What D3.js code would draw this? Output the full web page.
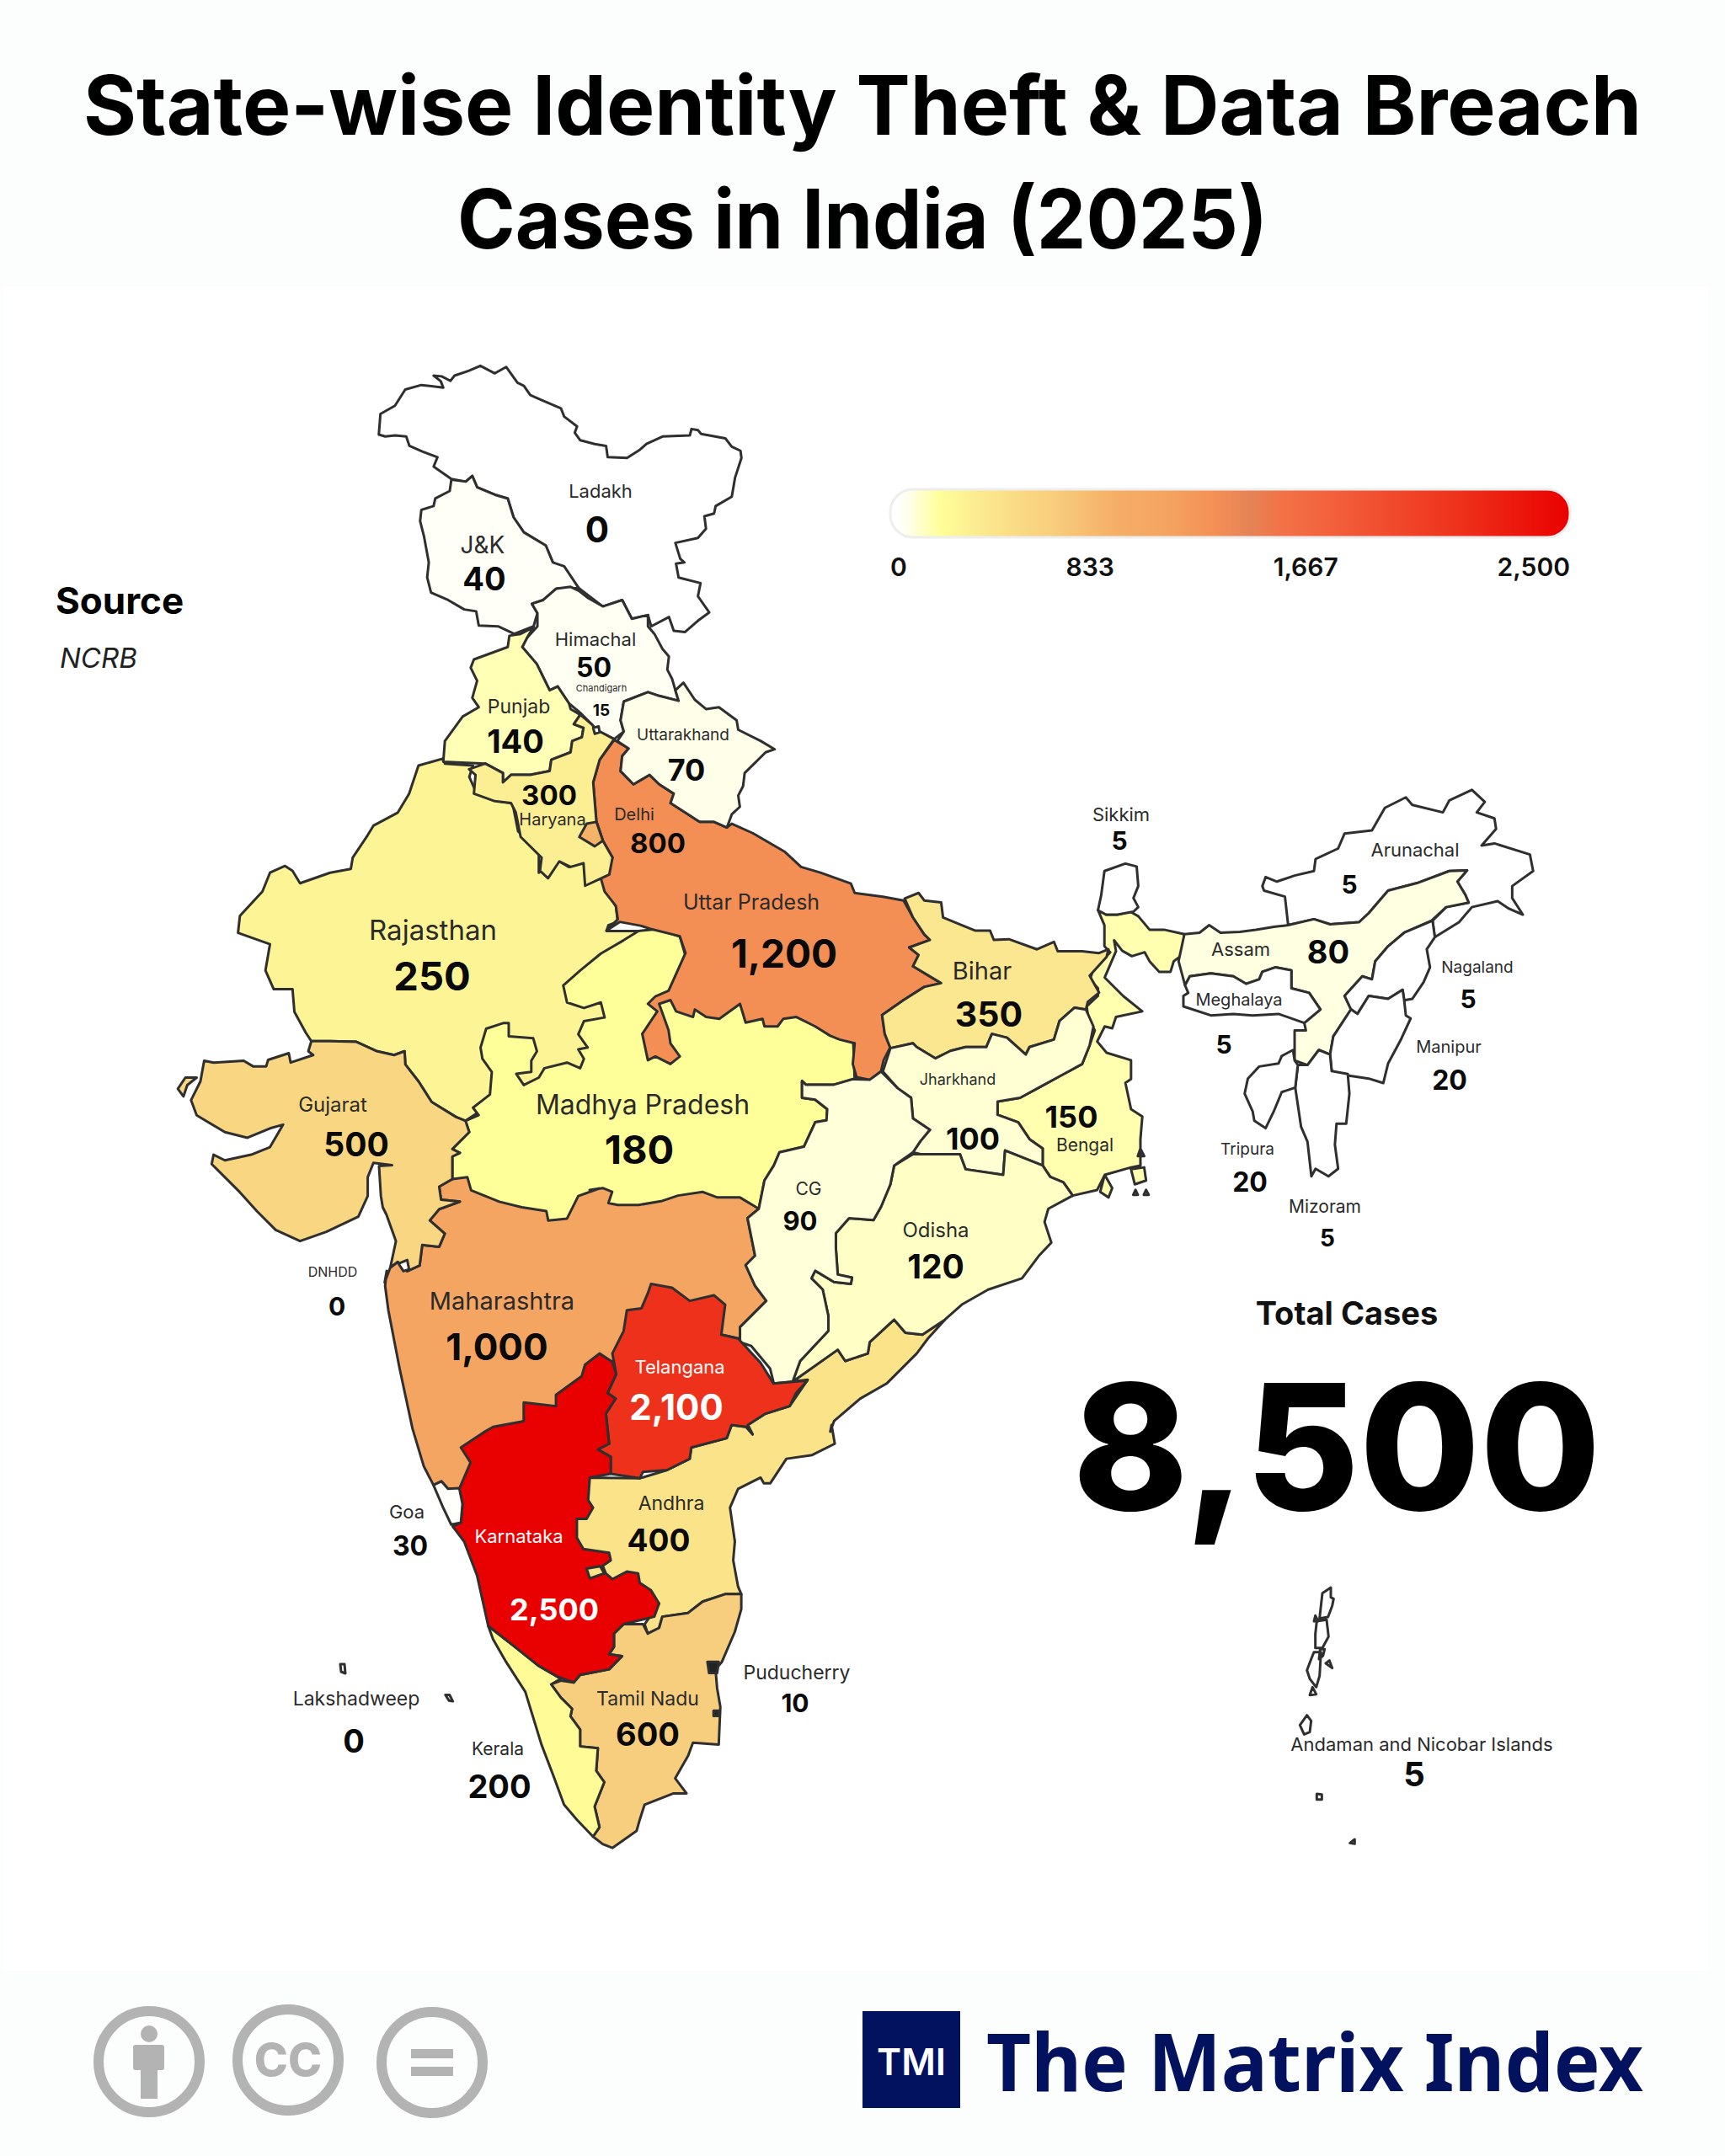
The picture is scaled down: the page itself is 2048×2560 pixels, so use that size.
<!DOCTYPE html>
<html>
<head>
<meta charset="utf-8">
<title>State-wise Identity Theft & Data Breach Cases in India (2025)</title>
<script src="https://cdn.jsdelivr.net/npm/d3@7"></script>
<style>
  html, body { margin: 0; padding: 0; background: #fcfdfd; }
  svg { display: block; font-family: Inter, "Noto Sans", sans-serif; }
</style>
</head>
<body>
<svg id="chart" width="2048" height="2560"></svg>
<script>
// Cases per state
const stateNames = ['Ladakh', 'J&K', 'Himachal', 'Chandigarh', 'Punjab', 'Haryana', 'Uttarakhand', 'Delhi', 'Uttar Pradesh',
    'Rajasthan', 'Bihar', 'Gujarat', 'Madhya Pradesh', 'Jharkhand', 'Bengal', 'CG', 'Odisha', 'Sikkim', 'Arunachal', 'Assam',
    'Meghalaya', 'Nagaland', 'Manipur', 'Tripura', 'Mizoram', 'DNHDD', 'Maharashtra', 'Telangana', 'Goa', 'Karnataka',
    'Andhra', 'Lakshadweep', 'Kerala', 'Tamil Nadu', 'Puducherry', 'Andaman and Nicobar Islands'];
const stateValues = [0, 40, 50, 15, 140, 300, 70, 800, 1200,
    250, 350, 500, 180, 100, 150, 90, 120, 5, 5, 80,
    5, 5, 20, 20, 5, 0, 1000, 2100, 30, 2500,
    400, 0, 200, 600, 10, 5];

// Legend and colour ramp
const legendTicks = ['0', '833', '1,667', '2,500'];
const rampStops = [0, 20, 60, 180, 350, 400, 500, 600, 833, 1000, 1200, 1320, 1450, 1667, 2100, 2500];
const rampColors = ['#ffffff', '#ffffff', '#fffff0', '#ffff99', '#fbe78f', '#fbe38a', '#f9d682', '#f7ce7d', '#f5ad66', '#f4a562', '#f38f55', '#e58356', '#f27145', '#f25c38', '#ee311a', '#e90000'];

const totalLabel = 'Total Cases';
const totalCases = 8500;

// label layout: name x, y, size, value x, y, size (same order as stateNames)
const labelLayout = [
    [713, 583, 22, 709, 629, 42], [573, 647, 28, 575, 687, 38], [707, 759, 22, 705, 792, 32], [714, 817, 11, 714, 843, 19],
    [616, 839, 23, 612, 880, 38], [656, 973, 20, 652, 944, 33], [811, 872, 19, 815, 914, 36], [753, 967, 20, 781, 1001, 33],
    [892, 1071, 25, 931, 1132, 46], [514, 1104, 33, 513, 1159, 47], [1166, 1153, 29, 1174, 1204, 41], [395, 1311, 24, 423, 1359, 39],
    [763, 1311, 32, 759, 1365, 47], [1137, 1282, 18, 1155, 1352, 36], [1288, 1359, 21, 1272, 1326, 36], [960, 1411, 21, 950, 1450, 31],
    [1111, 1460, 24, 1111, 1504, 39], [1331, 967, 22, 1329, 998, 30], [1680, 1009, 22, 1602, 1050, 30], [1473, 1127, 22, 1577, 1130, 38],
    [1471, 1187, 20, 1453, 1240, 30], [1754, 1148, 19, 1743, 1186, 30], [1720, 1243, 20, 1721, 1282, 32], [1481, 1364, 19, 1484, 1403, 32],
    [1573, 1432, 21, 1576, 1470, 28], [395, 1510, 16, 400, 1551, 30], [596, 1545, 29, 590, 1599, 44], [807, 1623, 22, 803, 1671, 42],
    [483, 1795, 22, 487, 1835, 32], [616, 1824, 22, 658, 1911, 36], [797, 1785, 23, 782, 1829, 37], [423, 2017, 23, 420, 2067, 38],
    [591, 2076, 21, 593, 2121, 38], [769, 2017, 23, 769, 2059, 38], [946, 1986, 23, 944, 2022, 30], [1688, 2071, 22, 1679, 2107, 40]
];

// The outlines were digitised on six enlarged sheets of the map; each helper turns sheet readings into map units
const sheet = (x0, y0, kx, ky) => pts => pts.map(([x, y]) => [x0 + x * kx, y0 + y * ky]);
const A = sheet(400, 400, .3827, .4464);
const B = sheet(200, 880, .4464, .4464);
const C = sheet(700, 1000, .4464, .4464);
const D = sheet(1250, 920, .3827, .3571);
const E = sheet(440, 1500, .3827, .4464);
const F = sheet(1480, 1860, 1 / 3, 1 / 3);

const outlines = {
    'Rajasthan': [B([[665,65],[735,45],[735,60],[810,65],[800,95],[820,140],[880,160],[915,165],[930,240],[985,290],[985,350],[1010,335],[1040,320],[1065,335],[1105,310],[1110,380],[1150,365],[1190,440],[1195,480],[1170,490],[1165,505],[1250,505],[1300,600],[1200,800],[1000,1000],[820,990],[790,1010],[765,1000],[700,960],[665,905],[630,860],[628,825],[600,835],[555,825],[500,800],[430,798],[380,798],[365,775],[335,720],[330,660],[280,660],[258,610],[270,540],[185,510],[190,465],[250,400],[270,350],[310,332],[330,345],[350,378],[430,350],[485,340],[490,310],[530,250],[545,225],[610,190],[640,140]])],
    'Maharashtra': [[...B([[720,1185],[755,1165],[900,1100]]), ...C([[450,900],[450,975],[420,1000],[440,1100],[415,1125],[440,1180],[470,1220],[400,1290],[400,1330]]), ...E([[1140,200],[1088,190],[1000,300],[800,300],[640,400],[400,500],[280,600],[240,600],[220,580],[195,590],[165,540],[130,440],[90,280],[55,125],[45,60],[50,20]]), ...B([[575,1440],[590,1400],[610,1385],[635,1410],[668,1395],[675,1340],[720,1345],[735,1310],[695,1275],[720,1245],[775,1225],[725,1220]])]],
    'Madhya Pradesh': [[...B([[1250,505],[1300,500],[1360,520],[1375,570]]), ...C([[300,350],[700,500],[705,630],[650,645],[575,645],[565,635],[565,680],[600,685],[632,710],[630,740],[600,745],[570,810],[505,825],[490,860],[465,900],[450,975],[400,945],[340,945],[300,930],[235,940],[190,955],[130,965],[75,965],[50,960],[60,930],[35,920],[0,925]]), ...B([[1145,1190],[1090,1210],[1060,1270],[1010,1275],[1005,1250],[940,1240],[880,1225],[805,1195],[795,1160],[755,1165],[755,1105],[775,1095],[755,1085],[800,1040],[790,1010],[825,995],[810,975],[855,940],[860,880],[835,845],[830,815],[845,765],[890,750],[905,750],[905,785],[970,790],[980,825],[965,850],[965,880],[925,885],[945,915],[985,895],[1000,870],[1060,855],[1095,870],[1105,845],[1090,820],[1115,815],[1090,780],[1105,745],[1160,735],[1150,695],[1105,710],[1060,695],[1050,650],[1095,610],[1150,565],[1210,530]])]],
    'Uttar Pradesh': [[...A([[860,1072],[905,1095],[885,1115],[880,1155],[920,1190],[970,1165],[1000,1190],[1045,1215],[1035,1240],[1125,1290],[1170,1290],[1210,1305],[1225,1295],[1290,1320],[1390,1370],[1440,1410],[1500,1425]]), ...C([[695,110],[705,135],[780,145],[835,155],[860,200],[890,245],[905,260],[850,280],[875,300],[860,330],[935,375],[890,385],[835,420],[778,460],[785,510],[800,545],[782,580],[775,610],[745,632],[710,625],[700,590],[705,535],[665,525],[640,515],[600,490],[550,465],[515,470],[500,490],[465,490],[460,470],[415,480],[400,430],[345,470],[310,465],[280,445],[275,465],[230,450],[215,420],[185,430],[210,500],[215,535],[240,570],[215,590],[175,570],[155,580],[140,510],[180,450],[155,430],[175,410],[210,395],[255,295],[240,250],[160,230],[135,222],[80,212],[45,235],[75,205],[70,170]]), ...B([[1160,400],[1150,365]]), ...A([[855,1385],[825,1340],[805,1290],[795,1185],[815,1125]])]],
    'Ladakh': [A([[130,260],[135,205],[180,183],[212,140],[262,128],[330,135],[322,118],[300,103],[325,105],[352,117],[365,103],[410,90],[445,77],[490,97],[525,80],[560,122],[580,130],[600,155],[640,170],[695,190],[705,212],[745,238],[738,255],[755,275],[800,285],[835,290],[840,320],[900,322],[940,300],[960,285],[1010,265],[1060,263],[1095,262],[1100,245],[1120,248],[1130,258],[1205,270],[1225,292],[1252,303],[1255,322],[1235,375],[1225,425],[1175,450],[1170,470],[1140,477],[1145,510],[1120,535],[1050,548],[1065,590],[1078,600],[1052,603],[1060,640],[1128,655],[1120,690],[1155,733],[1120,755],[1080,785],[1045,782],[1030,745],[975,770],[965,740],[915,750],[885,700],[825,717],[750,668],[670,600],[648,555],[580,520],[548,480],[530,430],[490,420],[435,400],[420,370],[400,385],[355,378],[300,345],[312,320],[265,305],[225,290],[215,265],[180,262],[150,265]])],
    'J&K': [A([[355,380],[400,385],[420,370],[435,400],[490,420],[530,430],[548,480],[580,520],[648,555],[670,600],[705,610],[750,668],[680,670],[640,700],[605,710],[622,735],[610,770],[550,790],[500,770],[440,768],[432,730],[395,725],[345,700],[292,680],[280,640],[285,600],[270,530],[258,490],[262,460],[300,450],[305,430],[350,410]])],
    'Himachal': [A([[605,710],[640,700],[680,670],[725,665],[750,675],[780,695],[825,717],[885,700],[915,750],[965,740],[965,770],[985,790],[1010,830],[1030,850],[1025,885],[1040,910],[1050,940],[1060,968],[1000,955],[965,945],[890,970],[880,1020],[890,1050],[860,1070],[805,1045],[790,1030],[755,1000],[720,975],[685,930],[660,940],[620,870],[575,825],[590,800],[622,770],[622,735]])],
    'Punjab': [A([[535,795],[570,790],[610,772],[590,800],[575,825],[620,870],[660,940],[685,930],[720,975],[725,990],[755,1005],[735,1030],[765,1040],[760,1065],[730,1075],[725,1105],[665,1125],[660,1155],[600,1165],[540,1165],[515,1185],[515,1160],[460,1135],[330,1130],[335,1075],[390,1010],[440,985],[420,960],[435,915],[415,880],[425,858],[530,825]])],
    'Haryana': [A([[755,1005],[790,1030],[805,1045],[860,1070],[815,1125],[795,1185],[805,1290],[825,1340],[855,1385],[845,1430],[820,1440],[770,1460],[765,1400],[725,1410],[690,1395],[655,1440],[630,1420],[635,1385],[570,1330],[555,1265],[540,1240],[490,1235],[425,1215],[430,1165],[410,1150],[460,1135],[515,1160],[515,1185],[540,1165],[600,1165],[660,1155],[665,1125],[725,1105],[730,1075],[760,1065],[765,1040],[735,1030]])],
    'Delhi': [A([[775,1295],[805,1290],[825,1340],[800,1355],[752,1330]])],
    'Uttarakhand': [A([[1075,920],[1110,965],[1145,990],[1185,985],[1240,1020],[1245,1045],[1315,1075],[1358,1097],[1330,1105],[1265,1160],[1260,1195],[1245,1220],[1250,1250],[1225,1270],[1210,1305],[1170,1290],[1125,1290],[1035,1240],[1045,1215],[1000,1190],[970,1165],[920,1190],[880,1155],[885,1115],[905,1095],[870,1075],[890,1050],[880,1020],[890,970],[965,945],[1000,955],[1060,968],[1050,940]])],
    'Bengal': [[...C([[1285,940],[1350,925],[1370,885],[1440,865],[1465,860],[1465,790],[1470,730],[1440,710],[1425,640],[1440,630],[1440,580],[1375,560],[1350,530],[1370,490],[1390,495],[1400,465],[1470,450],[1420,410],[1370,360],[1400,290]]), ...D([[190,550],[215,585],[245,603],[285,590],[300,620],[330,655],[365,655],[375,620],[400,600],[408,530],[345,515],[300,515],[265,470],[240,455],[200,465],[165,465],[140,450],[160,500],[160,570],[178,590],[125,650],[115,680],[140,710],[140,735],[105,770],[110,810],[130,850]]), ...C([[1330,540],[1310,590],[1255,620],[1200,650],[1145,680],[1085,690],[1085,725],[1140,745],[1170,790],[1205,815],[1205,860],[1225,890],[1260,905]])], C([[1358,930],[1370,885],[1390,920],[1380,945]]), C([[1440,870],[1475,865],[1480,900],[1450,910]]), C([[1465,815],[1475,835],[1458,835]]), C([[1452,925],[1458,938],[1446,938]]), C([[1480,925],[1487,938],[1474,938]])],
    'Bihar': [C([[838,150],[875,135],[890,155],[935,160],[940,200],[1000,225],[1025,235],[1065,235],[1075,260],[1115,258],[1190,285],[1235,265],[1245,290],[1310,290],[1355,295],[1380,285],[1375,305],[1330,355],[1355,400],[1325,425],[1320,445],[1290,440],[1250,475],[1235,525],[1170,545],[1160,565],[1110,520],[1070,510],[1055,545],[1000,545],[960,555],[920,575],[870,545],[860,535],[800,548],[785,510],[778,460],[835,420],[890,385],[935,375],[860,330],[875,300],[850,280],[905,260],[890,245],[860,200]])],
    'Jharkhand': [C([[800,548],[860,535],[870,545],[920,575],[960,555],[1000,545],[1055,545],[1070,510],[1110,520],[1160,565],[1170,545],[1235,525],[1250,475],[1290,440],[1320,445],[1340,490],[1330,540],[1310,590],[1255,620],[1200,650],[1145,680],[1085,690],[1085,725],[1140,745],[1170,790],[1205,815],[1205,860],[1105,820],[1100,885],[1000,870],[985,830],[880,830],[860,825],[880,795],[905,765],[860,735],[855,680],[820,655],[780,610]])],
    'Andhra': [[...C([[580,1430],[540,1435],[660,1350],[680,1380],[740,1360],[745,1330],[810,1270],[840,1305],[885,1310],[945,1270],[900,1320],[870,1360],[790,1440],[720,1480],[650,1540],[640,1568]]), ...E([[1430,430],[1440,480],[1370,510],[1290,520],[1240,585],[1220,585],[1210,570],[1140,600],[1115,650],[1130,740],[1125,790],[1140,860],[1150,880],[1100,880],[1030,900],[985,930],[905,940],[895,970],[860,985],[850,960],[895,905],[800,880],[620,780],[620,650],[660,570],[835,572],[920,550],[990,520],[995,490],[1105,465],[1120,430],[1165,435],[1185,455],[1170,430],[1225,400],[1300,380]])]],
    'Odisha': [C([[860,830],[985,830],[1000,870],[1100,885],[1105,820],[1205,860],[1225,890],[1260,905],[1285,940],[1220,975],[1210,1010],[1228,1065],[1195,1100],[1150,1160],[1060,1190],[990,1230],[945,1270],[885,1310],[840,1305],[810,1270],[745,1330],[740,1360],[680,1380],[660,1350],[540,1435],[560,1380],[635,1300],[635,1260],[620,1190],[590,1160],[600,1140],[650,1170],[695,1175],[698,1158],[660,1150],[655,1080],[655,1040],[690,1000],[755,1005],[775,970],[800,910],[810,860]])],
    'CG': [C([[565,635],[575,645],[650,645],[700,630],[745,632],[775,610],[820,655],[855,680],[860,735],[905,765],[880,795],[860,825],[810,860],[800,910],[775,970],[755,1005],[690,1000],[655,1040],[655,1080],[660,1150],[698,1158],[695,1175],[650,1170],[600,1140],[590,1160],[620,1190],[635,1260],[635,1300],[560,1380],[540,1435],[490,1440],[480,1400],[430,1340],[400,1330],[400,1290],[470,1220],[440,1180],[415,1125],[440,1100],[420,1000],[450,975],[465,900],[490,860],[505,825],[570,810],[600,745],[630,740],[632,710],[600,685],[565,680]])],
    'Telangana': [E([[870,55],[935,65],[990,100],[1065,85],[1100,110],[1088,190],[1140,200],[1210,265],[1250,320],[1355,312],[1320,345],[1300,380],[1225,400],[1170,430],[1185,455],[1165,435],[1120,430],[1105,465],[995,490],[990,520],[920,550],[845,555],[835,572],[745,560],[745,515],[705,495],[740,480],[730,400],[760,360],[735,345],[762,295],[750,240],[785,180],[795,125],[840,120],[860,80]])],
    'Tamil Nadu': [E([[1150,880],[1150,920],[1130,980],[1090,1060],[1070,1080],[1075,1130],[1085,1180],[1080,1280],[1000,1275],[985,1310],[945,1370],[980,1410],[940,1410],[850,1440],[835,1480],[825,1510],[750,1555],[720,1545],[690,1525],[710,1500],[695,1445],[725,1380],[700,1350],[705,1290],[650,1285],[650,1240],[620,1205],[625,1185],[590,1155],[560,1120],[590,1110],[630,1115],[650,1095],[740,1080],[780,1045],[740,1040],[755,1020],[755,985],[785,960],[845,960],[860,985],[895,970],[905,940],[985,930],[1030,900],[1100,880]])],
    'Kerala': [E([[365,965],[440,1015],[520,1070],[590,1105],[560,1120],[590,1155],[625,1185],[620,1205],[650,1240],[650,1285],[705,1290],[700,1350],[725,1380],[695,1445],[710,1500],[690,1525],[640,1480],[600,1440],[570,1370],[530,1280],[480,1140],[420,1060],[380,1000]])],
    'Karnataka': [E([[710,240],[750,262],[762,295],[735,345],[760,360],[730,400],[740,480],[705,495],[745,515],[745,560],[680,570],[675,630],[690,650],[670,680],[640,680],[640,730],[660,760],[740,770],[745,790],[720,805],[730,825],[750,840],[795,820],[830,825],[835,850],[870,870],[895,905],[880,940],[785,960],[755,985],[755,1020],[740,1040],[780,1045],[740,1080],[650,1095],[630,1115],[580,1100],[520,1070],[440,1015],[365,965],[330,830],[290,740],[255,700],[280,690],[285,640],[275,600],[310,530],[280,490],[350,450],[380,435],[475,420],[475,370],[575,380],[575,350],[655,300],[665,270]])],
    'Goa': [E([[195,590],[220,580],[240,600],[275,598],[285,640],[280,690],[250,695],[225,650]])],
    'Gujarat': [B([[380,798],[430,798],[500,800],[555,825],[600,835],[628,825],[630,860],[665,905],[700,960],[765,1000],[790,1010],[800,1040],[755,1085],[775,1095],[755,1105],[755,1165],[720,1185],[725,1220],[775,1225],[720,1245],[695,1275],[735,1310],[720,1345],[675,1340],[668,1395],[635,1410],[610,1385],[590,1400],[605,1330],[580,1260],[570,1240],[565,1210],[560,1130],[595,1128],[545,1122],[530,1160],[530,1210],[505,1265],[420,1305],[350,1330],[285,1300],[235,1250],[190,1200],[115,1125],[120,1100],[150,1115],[220,1100],[270,1080],[305,1020],[270,1030],[210,1055],[150,1040],[75,995],[60,955],[85,905],[95,850],[120,855],[200,850],[225,865],[260,865],[265,848],[320,830],[325,855],[385,835],[372,825]]), B([[25,925],[45,895],[75,895],[50,915],[40,945]])],
    'DNHDD': [B([[612,1390],[635,1380],[640,1405],[625,1410]])],
    'Chandigarh': [A([[795,1040],[812,1036],[815,1052],[800,1056]])],
    'Sikkim': [D([[160,320],[225,295],[260,305],[265,370],[250,410],[265,440],[250,455],[200,465],[165,465],[140,450],[150,400]])],
    'Arunachal': [D([[660,340],[695,355],[750,335],[810,320],[815,280],[885,245],[905,195],[990,185],[1030,110],[1095,75],[1115,100],[1210,125],[1230,85],[1300,50],[1340,90],[1315,125],[1370,145],[1375,180],[1330,235],[1370,228],[1480,265],[1490,320],[1425,370],[1425,410],[1458,465],[1415,445],[1380,420],[1300,440],[1260,490],[1185,540],[1178,485],[1220,440],[1290,425],[1280,400],[1255,355],[1285,318],[1230,320],[1130,360],[1040,385],[980,460],[950,490],[860,497],[810,480],[730,500],[720,405],[655,385],[650,370]])],
    'Assam': [D([[408,530],[455,525],[485,500],[520,525],[580,522],[630,515],[690,505],[730,500],[810,480],[860,497],[950,490],[980,460],[1040,385],[1130,360],[1230,320],[1285,318],[1255,355],[1280,400],[1290,425],[1220,440],[1175,485],[1090,525],[1040,570],[1000,620],[990,680],[960,670],[905,735],[925,780],[870,870],[860,930],[825,915],[790,965],[750,950],[750,850],[785,850],[780,825],[830,780],[795,725],[740,710],[740,650],[690,640],[650,655],[640,680],[600,695],[560,670],[490,660],[425,670],[410,700],[390,620]])],
    'Meghalaya': [D([[410,700],[425,670],[490,660],[560,670],[600,695],[640,680],[650,655],[690,640],[740,650],[740,710],[795,725],[830,780],[780,825],[700,795],[620,800],[560,795],[490,800],[405,770],[405,735],[420,725]])],
    'Nagaland': [D([[1178,485],[1185,540],[1160,580],[1170,640],[1150,690],[1115,745],[1090,750],[1085,715],[1040,745],[980,735],[945,795],[925,780],[905,735],[960,670],[990,680],[1000,620],[1040,570],[1090,525]])],
    'Manipur': [D([[980,735],[1040,745],[1085,715],[1090,750],[1095,800],[1110,810],[1080,880],[1040,960],[1025,1025],[980,1010],[915,1000],[865,985],[860,930],[870,870],[925,780],[945,795]])],
    'Mizoram': [D([[760,965],[790,965],[825,915],[860,930],[865,985],[915,995],[920,1060],[910,1160],[880,1160],[875,1230],[885,1310],[855,1335],[815,1310],[802,1335],[790,1220],[770,1170],[752,1040]])],
    'Tripura': [D([[745,915],[750,950],[760,965],[752,1040],[710,1055],[685,1120],[660,1175],[625,1150],[620,1120],[595,1060],[605,1010],[640,970],[700,960],[710,935]])],
    'Puducherry': [E([[1045,1060],[1080,1060],[1075,1090],[1050,1090]]), E([[1064,1190],[1080,1190],[1080,1204],[1064,1204]])],
    'Lakshadweep': [E([[232,1148],[245,1148],[255,1165],[243,1163]]), sheet(400, 1970, 1, 1)([[4,6],[9,6],[10,17],[5,15]])],
    'Andaman and Nicobar Islands': [
        F([[300,75],[270,95],[260,185],[290,180],[305,140],[310,115],[300,110]]),
        F([[250,195],[285,190],[292,250],[270,290],[245,290],[245,240]]),
        F([[240,305],[265,305],[260,390],[248,430],[225,400],[215,370],[230,330]]),
        F([[235,430],[248,455],[225,458]]),
        F([[262,295],[278,295],[272,318],[258,330]]),
        F([[240,195],[245,175],[255,195]]),
        F([[282,345],[295,335],[305,362]]),
        F([[215,530],[230,550],[225,590],[205,598],[190,565]]),
        F([[250,810],[268,812],[268,830],[250,830]]),
        F([[368,985],[385,972],[385,988]])
    ]
};
// small pocket of Andhra inside Karnataka
const andhraPocket = E([[670,812],[712,806],[725,825],[680,838]]);

const color = d3.scaleLinear().domain(rampStops).range(rampColors).clamp(true);
const valueOf = name => stateValues[stateNames.indexOf(name)];

const svg = d3.select('#chart');

// backgrounds
svg.append('rect').attr('x', 4).attr('y', 340).attr('width', 2024).attr('height', 2000).attr('fill', '#ffffff');

// title
const titleLines = ['State-wise Identity Theft & Data Breach', 'Cases in India (2025)'];
const titleWidths = [1850, 962];
svg.append('g').selectAll('text')
    .data(titleLines)
    .enter()
    .append('text')
    .attr('x', 1024)
    .attr('y', (d, i) => 160 + i * 135)
    .attr('text-anchor', 'middle')
    .attr('font-size', 97)
    .attr('font-weight', 700)
    .attr('fill', '#000')
    .attr('textLength', (d, i) => titleWidths[i])
    .attr('lengthAdjust', 'spacingAndGlyphs')
    .text(d => d);

// map
const path = d3.geoPath(d3.geoIdentity());
const closeRing = ring => [...ring, ring[0]];
const features = Object.entries(outlines).map(([name, parts]) => ({
    type: 'Feature',
    properties: { name, value: valueOf(name) },
    geometry: { type: 'MultiPolygon', coordinates: parts.map(p => [closeRing(p)]) }
}));
features.push({
    type: 'Feature',
    properties: { name: 'Andhra', value: valueOf('Andhra') },
    geometry: { type: 'Polygon', coordinates: [closeRing(andhraPocket)] }
});

svg.append('g').selectAll('path')
    .data(features)
    .enter()
    .append('path')
    .attr('d', path)
    .attr('fill', d => d.properties.name === 'Puducherry' ? '#222' : color(d.properties.value))
    .attr('stroke', '#2f2f2f')
    .attr('stroke-width', 3)
    .attr('stroke-linejoin', 'round');

// state names and values
const labels = svg.append('g').attr('text-anchor', 'middle');
const whiteText = ['Telangana', 'Karnataka'];
stateNames.forEach((name, i) => {
    const [nx, ny, ns, vx, vy, vs] = labelLayout[i];
    const white = whiteText.includes(name);
    labels.append('text')
        .attr('x', nx).attr('y', ny).attr('dy', '.36em')
        .attr('font-size', ns)
        .attr('fill', white ? '#fff' : '#2b2b2b')
        .text(name);
    labels.append('text')
        .attr('x', vx).attr('y', vy).attr('dy', '.36em')
        .attr('font-size', vs)
        .attr('font-weight', 700)
        .attr('fill', white ? '#fff' : '#0a0a0a')
        .text(d3.format(',')(stateValues[i]));
});

// source
svg.append('text').attr('x', 66).attr('y', 729).attr('font-size', 44).attr('font-weight', 700).text('Source');
svg.append('text').attr('x', 71).attr('y', 793).attr('font-size', 33).attr('font-style', 'italic').attr('fill', '#222').text('NCRB');

// legend bar, gradient built from the colour ramp
const legendX = d3.scaleLinear().domain([0, 2500]).range([1057, 1864]);
const grad = svg.append('defs').append('linearGradient').attr('id', 'legendGrad');
grad.selectAll('stop')
    .data(rampStops)
    .enter()
    .append('stop')
    .attr('offset', d => d / 2500)
    .attr('stop-color', d => color(d));
svg.append('rect')
    .attr('x', legendX(0)).attr('y', 581)
    .attr('width', legendX(2500) - legendX(0)).attr('height', 57)
    .attr('rx', 27)
    .attr('fill', 'url(#legendGrad)')
    .attr('stroke', '#eeeeee')
    .attr('stroke-width', 3);

// tick labels are spread edge to edge along the bar
const tickText = svg.append('g').selectAll('text')
    .data(legendTicks)
    .enter()
    .append('text')
    .attr('y', 684)
    .attr('font-size', 30)
    .attr('font-weight', 600)
    .attr('fill', '#111')
    .text(d => d);
const widths = tickText.nodes().map(n => n.getComputedTextLength());
const gap = (legendX(2500) - legendX(0) - d3.sum(widths)) / (legendTicks.length - 1);
tickText.attr('x', (d, i) => legendX(0) + d3.sum(widths.slice(0, i)) + gap * i);

// total
svg.append('text').attr('x', 1599).attr('y', 1573).attr('text-anchor', 'middle')
    .attr('font-size', 38).attr('font-weight', 700).attr('fill', '#111').text(totalLabel);
svg.append('text').attr('x', 1587).attr('y', 1793).attr('text-anchor', 'middle')
    .attr('font-size', 207).attr('font-weight', 800).attr('fill', '#000').text(d3.format(',')(totalCases));

// licence badges
const badgeGrey = '#b3b3b3';
const badges = svg.append('g').attr('fill', 'none').attr('stroke', badgeGrey).attr('stroke-width', 12);
[[177, 2448], [342, 2446], [513, 2449]].forEach(([cx, cy]) => {
    badges.append('circle').attr('cx', cx).attr('cy', cy).attr('r', 60);
});
const badgeFill = svg.append('g').attr('fill', badgeGrey);
badgeFill.append('circle').attr('cx', 177).attr('cy', 2415).attr('r', 10);
badgeFill.append('rect').attr('x', 158).attr('y', 2428).attr('width', 37).attr('height', 30).attr('rx', 3);
badgeFill.append('rect').attr('x', 167).attr('y', 2450).attr('width', 20).attr('height', 42);
badgeFill.append('text').attr('x', 342).attr('y', 2465).attr('text-anchor', 'middle')
    .attr('font-size', 54).attr('font-weight', 800).text('CC');
badgeFill.append('rect').attr('x', 488).attr('y', 2433).attr('width', 50).attr('height', 11);
badgeFill.append('rect').attr('x', 488).attr('y', 2454).attr('width', 50).attr('height', 11);

// logo
svg.append('rect').attr('x', 1024).attr('y', 2388).attr('width', 116).attr('height', 115).attr('fill', '#03125f');
svg.append('text').attr('x', 1082).attr('y', 2464).attr('text-anchor', 'middle')
    .attr('font-size', 44).attr('font-weight', 600).attr('fill', '#fff').text('TMI');
svg.append('text').attr('x', 1171).attr('y', 2483)
    .attr('font-family', '"Noto Sans", sans-serif')
    .attr('font-size', 95).attr('font-weight', 700).attr('fill', '#03125f')
    .attr('textLength', 780).attr('lengthAdjust', 'spacingAndGlyphs')
    .text('The Matrix Index');
</script>
</body>
</html>
